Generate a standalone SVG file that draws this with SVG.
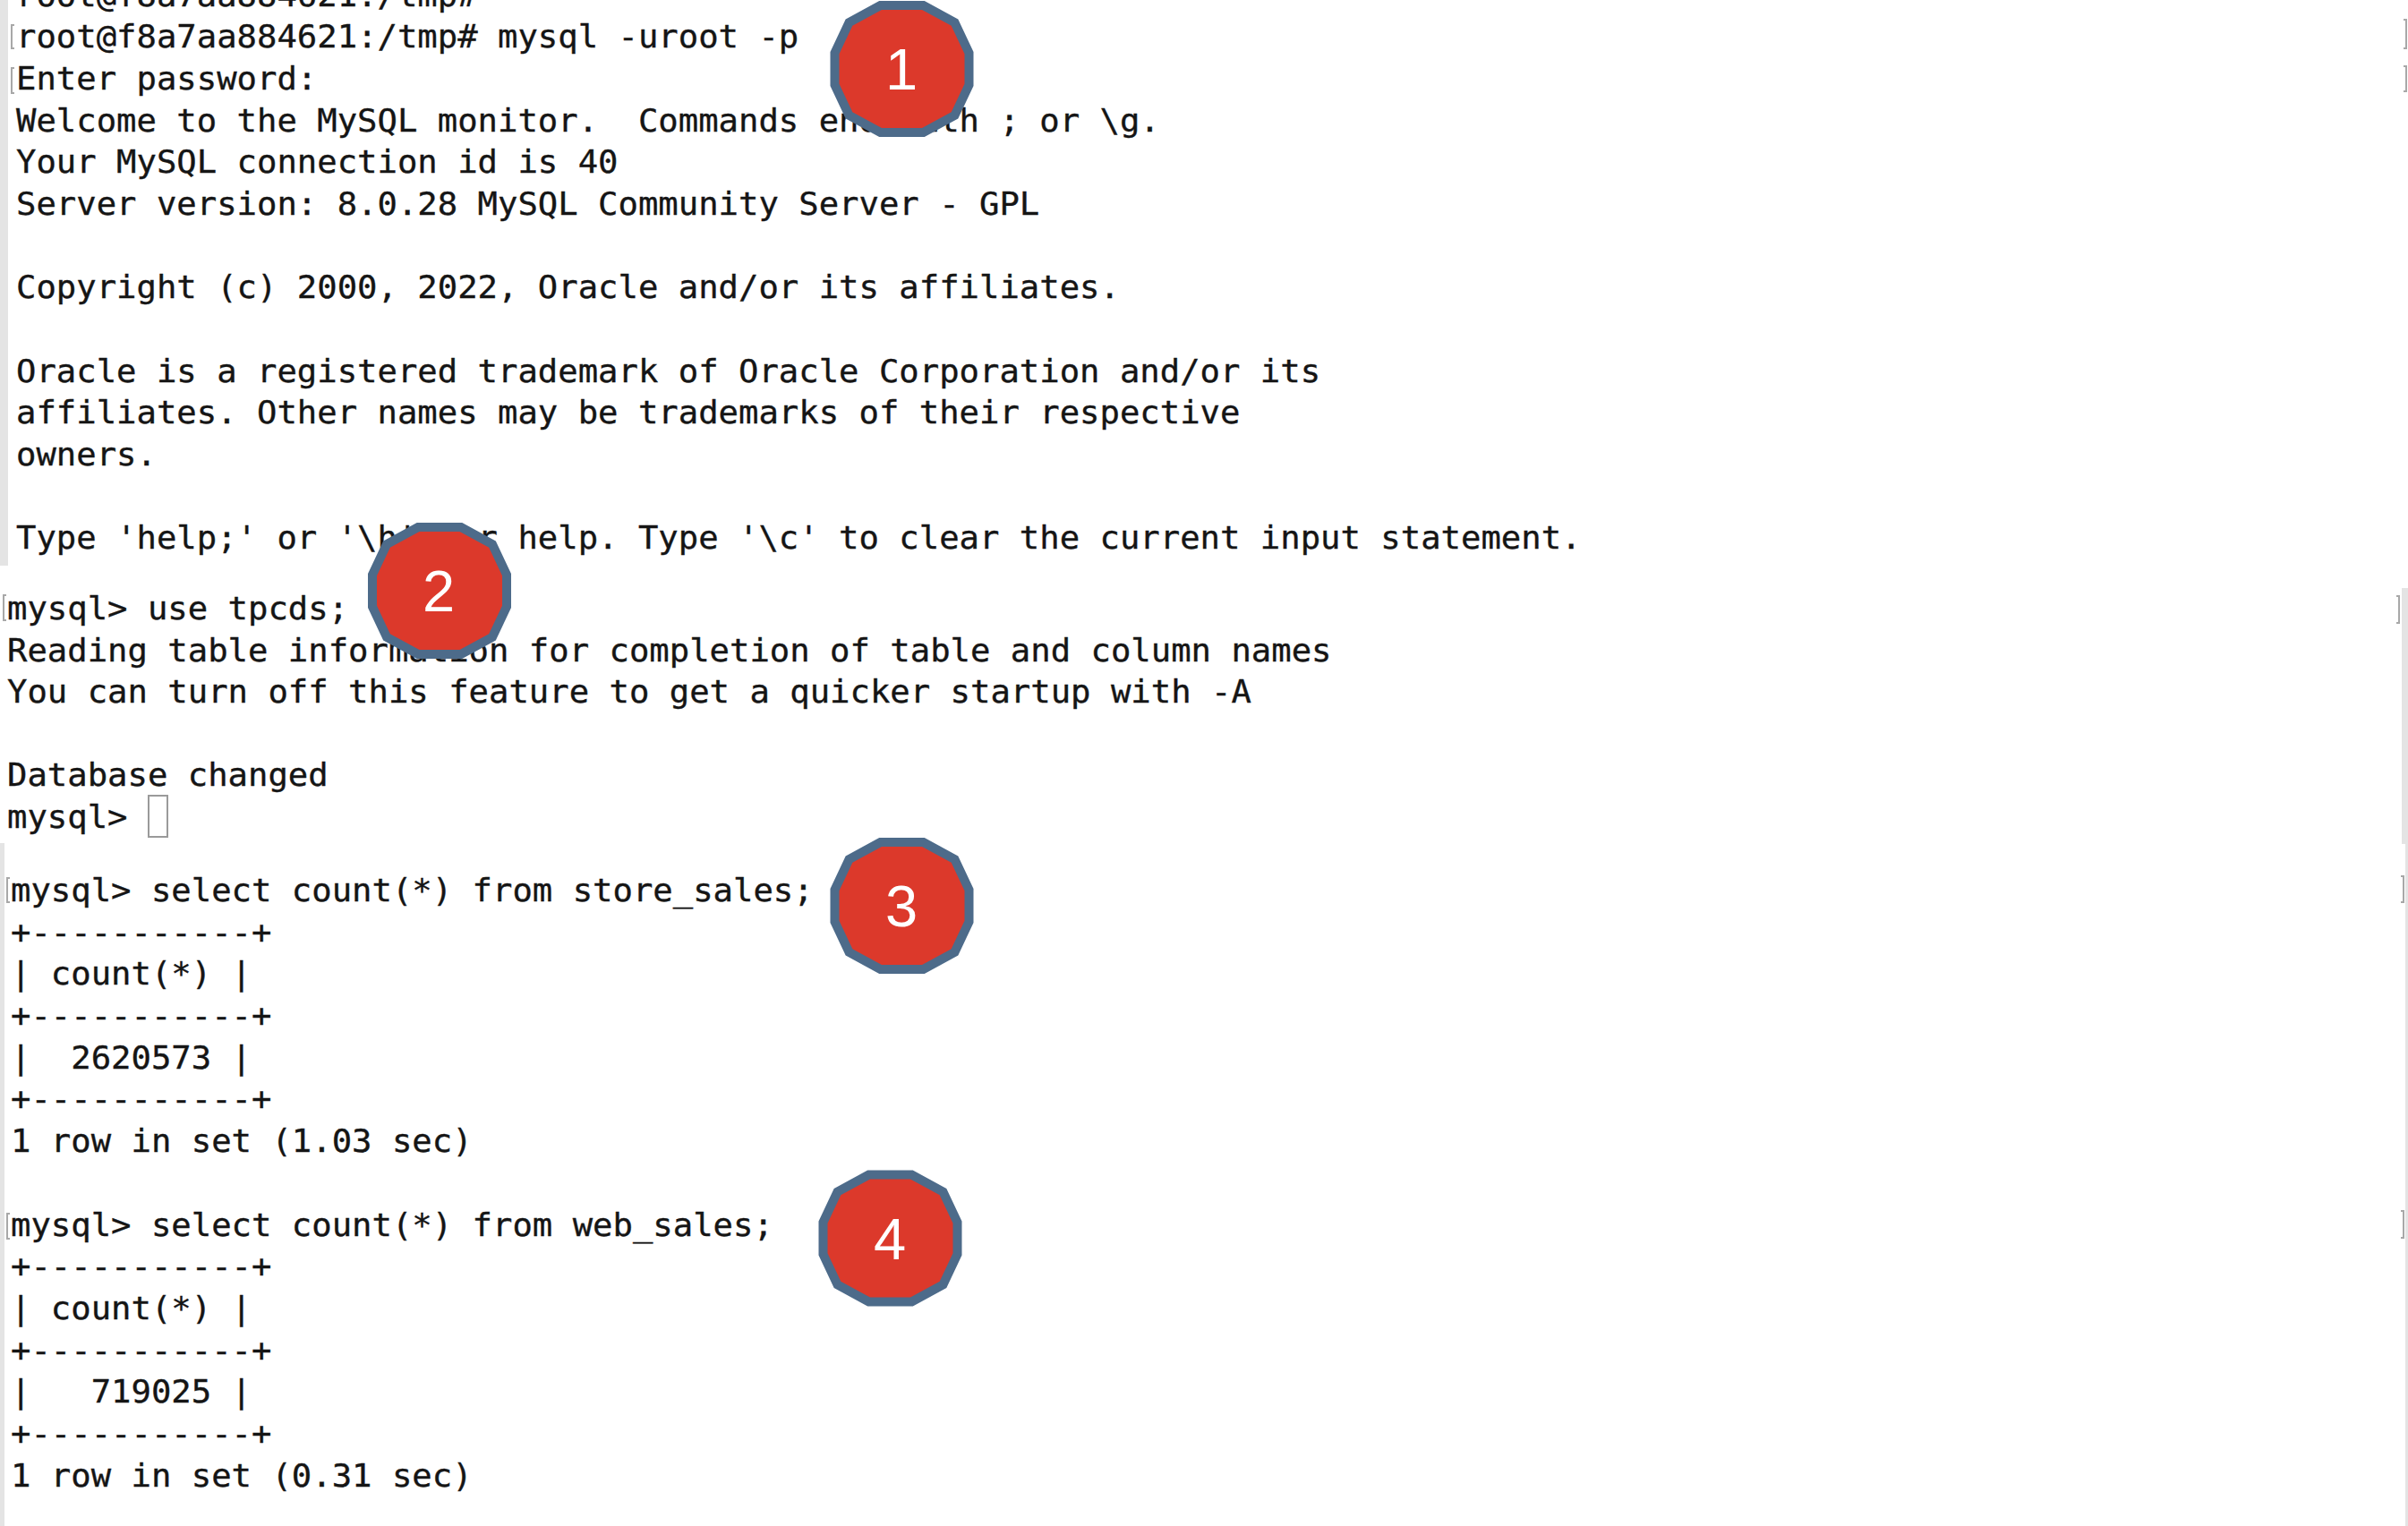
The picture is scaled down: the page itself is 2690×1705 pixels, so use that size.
<svg xmlns="http://www.w3.org/2000/svg" width="2690" height="1705" viewBox="0 0 2690 1705">
<style>
.t{font-family:"DejaVu Sans Mono","Liberation Mono",monospace;font-size:34.6px;fill:#151515;stroke:#151515;stroke-width:.35px;white-space:pre}
.n{font-family:"Liberation Sans",Arial,sans-serif;font-size:65px;fill:#fff;text-anchor:middle}
.bar{fill:#e4e4e4}
.br{fill:none;stroke:#a8a8a8;stroke-width:2}
</style>
<defs>
<polygon id="badge" points="-24,-71 24,-71 59,-52 75,-18 75,18 59,52 24,71 -24,71 -59,52 -75,18 -75,-18 -59,-52" fill="#dc392b" stroke="#4d6b8a" stroke-width="10"/>
</defs>
<rect width="2690" height="1705" fill="#fff"/>
<g id="edges">
<rect class="bar" x="0" y="0" width="9" height="632"/>
<rect class="bar" x="2683" y="657" width="7" height="286"/>
<rect class="bar" x="0" y="942" width="5" height="763"/>
<rect class="bar" x="2687" y="943" width="3" height="762"/>
<path class="br" d="M16 28H13V54H16M16 76H13V104H16M7 665H4V693H7M11 981H8V1008H11M11 1356H8V1384H11"/>
<path class="br" d="M2685 22H2688V54H2685M2685 74H2688V102H2685M2677 666H2680V696H2677M2682 979H2685V1008H2682M2682 1353H2685V1383H2682"/>
<rect x="166" y="889" width="21" height="46" fill="none" stroke="#9a9a9a" stroke-width="2"/>
</g>
<g id="session-login" transform="translate(18 0.5) scale(1.0763 1)">
<text class="t" y="6">root@f8a7aa884621:/tmp#</text>
<text class="t" y="53">root@f8a7aa884621:/tmp# mysql -uroot -p</text>
<text class="t" y="100">Enter password:</text>
<text class="t" y="147">Welcome to the MySQL monitor.  Commands end with ; or \g.</text>
<text class="t" y="193">Your MySQL connection id is 40</text>
<text class="t" y="240">Server version: 8.0.28 MySQL Community Server - GPL</text>
<text class="t" y="333">Copyright (c) 2000, 2022, Oracle and/or its affiliates.</text>
<text class="t" y="427">Oracle is a registered trademark of Oracle Corporation and/or its</text>
<text class="t" y="473">affiliates. Other names may be trademarks of their respective</text>
<text class="t" y="520">owners.</text>
<text class="t" y="613">Type 'help;' or '\h' for help. Type '\c' to clear the current input statement.</text>
</g>
<g id="session-use" transform="translate(8 0.5) scale(1.0763 1)">
<text class="t" y="692">mysql> use tpcds;</text>
<text class="t" y="738">Reading table information for completion of table and column names</text>
<text class="t" y="785">You can turn off this feature to get a quicker startup with -A</text>
<text class="t" y="878">Database changed</text>
<text class="t" y="925">mysql></text>
</g>
<g id="session-counts" transform="translate(12 0.5) scale(1.0763 1)">
<text class="t" y="1007">mysql> select count(*) from store_sales;</text>
<text class="t" y="1054">+-----------+</text>
<text class="t" y="1100">| count(*) |</text>
<text class="t" y="1147">+-----------+</text>
<text class="t" y="1194">|  2620573 |</text>
<text class="t" y="1240">+-----------+</text>
<text class="t" y="1287">1 row in set (1.03 sec)</text>
<text class="t" y="1381">mysql> select count(*) from web_sales;</text>
<text class="t" y="1427">+-----------+</text>
<text class="t" y="1474">| count(*) |</text>
<text class="t" y="1521">+-----------+</text>
<text class="t" y="1567">|   719025 |</text>
<text class="t" y="1614">+-----------+</text>
<text class="t" y="1661">1 row in set (0.31 sec)</text>
</g>
<g id="node-1"><use href="#badge" x="1007.5" y="77"/><text class="n" x="1007" y="100">1</text></g>
<g id="node-2"><use href="#badge" x="491" y="660"/><text class="n" x="490" y="683">2</text></g>
<g id="node-3"><use href="#badge" x="1007.5" y="1012"/><text class="n" x="1007" y="1034.5">3</text></g>
<g id="node-4"><use href="#badge" x="994.5" y="1383.5"/><text class="n" x="994" y="1406.5">4</text></g>
</svg>
